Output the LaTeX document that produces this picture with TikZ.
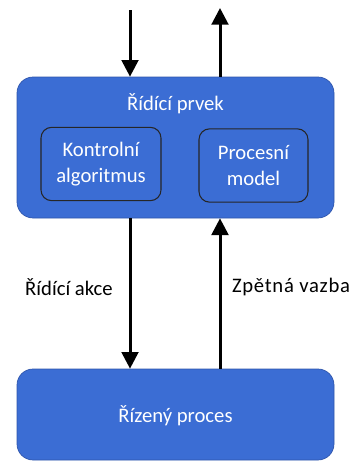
\documentclass[tikz,border=0pt]{standalone}
\usepackage{fontspec}
\setmainfont{Carlito}
\usetikzlibrary{positioning,arrows.meta}
\definecolor{boxblue}{RGB}{59,109,212}
\definecolor{edgeblue}{RGB}{47,85,170}

\begin{document}
\begin{tikzpicture}[
        x=0.75pt,
        y=-0.75pt,
        font=\fontsize{15.5}{19.5}\selectfont,
        outer/.style={
                rectangle,
                rounded corners=12pt,
                draw=edgeblue,
                fill=boxblue,
                line width=0.5pt,
                text=white,
                minimum width=237.75pt,
                inner sep=0pt
            },
        inner/.style={
                rectangle,
                rounded corners=8pt,
                draw=black!85,
                fill=boxblue,
                line width=0.8pt,
                text=white,
                align=center,
                minimum height=55pt,
                inner sep=0pt
            },
        title/.style={
                text=white,
                inner sep=0pt
            },
        flow/.style={
                line width=2.25pt,
                -{Triangle[length=12.5pt,width=12.5pt]}
            }
    ]
    \useasboundingbox (0,0) rectangle (352,461);

    \node[outer, minimum height=105.75pt] (prvek) at (175.5,147.5) {};
    \node[title] (prvekText) at (175.5,104) {Řídící prvek};
    \node[inner, minimum width=90pt] (algoritmus) at (101,164) {Kontrolní\\algoritmus};
    \node[inner, minimum width=81.75pt] (model) at (253.5,165.5) {Procesní\\model};

    \node[outer, minimum height=68.25pt] (proces) at (175.5,414.5) {};
    \node[title] (procesText) at (175.5,416) {Řízený proces};

    \coordinate (vstup) at (130,10);
    \coordinate (vystup) at (220,8);

    \draw[flow] (vstup) -- (vstup |- prvek.north);
    \draw[flow] (prvek.north -| vystup) -- (vystup);
    \draw[flow] (prvek.south -| vstup) -- (vstup |- proces.north);
    \draw[flow] (proces.north -| vystup) -- (vystup |- prvek.south);

    % popisky sipek
    \node[title, text=black] (akce) at (69,287) {Řídící akce};
    \node[title, text=black, font=\fontsize{15.5}{19.5}\selectfont\addfontfeature{LetterSpace=3.4}] (vazba) at (291,287) {Zpětná vazba};
\end{tikzpicture}
\end{document}
